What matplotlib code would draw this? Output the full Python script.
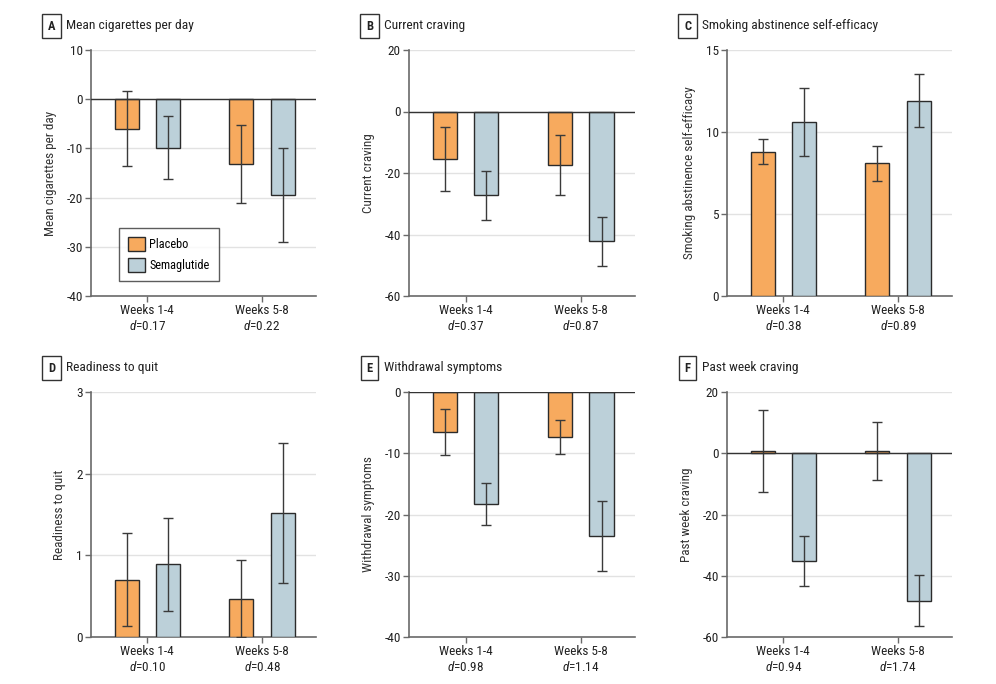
import matplotlib
matplotlib.use("Agg")
import matplotlib.pyplot as plt
from matplotlib import font_manager
import numpy as np

avail = {f.name for f in font_manager.fontManager.ttflist}
pref = [f for f in ['Roboto Condensed', 'Liberation Sans Narrow', 'Open Sans Condensed', 'Lato'] if f in avail]
FAM = pref[0] if pref else 'DejaVu Sans'
plt.rcParams['font.family'] = [FAM, 'DejaVu Sans']
plt.rcParams['mathtext.fontset'] = 'custom'
plt.rcParams['mathtext.it'] = FAM + ':italic'
plt.rcParams['mathtext.rm'] = FAM

groups = ["Weeks 1-4", "Weeks 5-8"]
series = ["Placebo", "Semaglutide"]

letters = ["A", "B", "C", "D", "E", "F"]
titles = ["Mean cigarettes per day", "Current craving", "Smoking abstinence self-efficacy",
          "Readiness to quit", "Withdrawal symptoms", "Past week craving"]
ylabels = titles

placebo_mean = [[-6.0, -13.2], [-15.4, -17.4], [8.8, 8.1], [0.70, 0.47], [-6.6, -7.3], [0.6, 0.7]]
placebo_err = [[7.6, 7.95], [10.5, 9.9], [0.78, 1.07], [0.57, 0.47], [3.76, 2.8], [13.4, 9.4]]
sema_mean = [[-9.9, -19.5], [-27.2, -42.2], [10.6, 11.9], [0.89, 1.52], [-18.3, -23.5], [-35.2, -48.1]]
sema_err = [[6.4, 9.5], [8.0, 8.0], [2.08, 1.61], [0.57, 0.86], [3.4, 5.65], [8.2, 8.2]]
d_values = [["0.17", "0.22"], ["0.37", "0.87"], ["0.38", "0.89"],
            ["0.10", "0.48"], ["0.98", "1.14"], ["0.94", "1.74"]]
yticks = [[10, 0, -10, -20, -30, -40], [20, 0, -20, -40, -60], [15, 10, 5, 0],
          [3, 2, 1, 0], [0, -10, -20, -30, -40], [20, 0, -20, -40, -60]]

ORANGE = "#F7AA5E"
BLUE = "#BCD0D9"
EDGE = "#2b2b2b"
ERRC = "#3a3a3a"
GRID = "#e2e2e2"
SPINE = "#6a6a6a"
TXT = "#222222"

W, H = 996, 684
fig = plt.figure(figsize=(W / 100, H / 100), dpi=100)

cols = [(91, 316), (409, 635), (727, 952)]
rows = [(50, 296), (392, 637)]

for i in range(6):
    r, c = divmod(i, 3)
    l, rr = cols[c]
    t, b = rows[r]
    ax = fig.add_axes([l / W, 1 - b / H, (rr - l) / W, (b - t) / H])
    x = np.arange(len(groups))
    off = 0.18
    bw = 0.21
    ax.bar(x - off, placebo_mean[i], bw, color=ORANGE, edgecolor=EDGE, linewidth=1.0, zorder=3, label=series[0])
    ax.bar(x + off, sema_mean[i], bw, color=BLUE, edgecolor=EDGE, linewidth=1.0, zorder=3, label=series[1])
    ax.errorbar(x - off, placebo_mean[i], yerr=placebo_err[i], fmt='none', ecolor=ERRC,
                elinewidth=1.0, capsize=3.8, capthick=1.0, zorder=4)
    ax.errorbar(x + off, sema_mean[i], yerr=sema_err[i], fmt='none', ecolor=ERRC,
                elinewidth=1.0, capsize=3.8, capthick=1.0, zorder=4)
    yt = yticks[i]
    ax.set_ylim(min(yt), max(yt))
    ax.set_yticks(yt)
    ax.set_yticklabels([str(v) if v >= 0 else "-" + str(-v) for v in yt])
    ax.set_xlim(-0.49, 1.47)
    ax.set_xticks(x)
    ax.set_xticklabels([f"{g}\n$d$=" + dv for g, dv in zip(groups, d_values[i])],
                       linespacing=1.15)
    ax.yaxis.grid(True, color=GRID, linewidth=1.0, zorder=0)
    ax.set_axisbelow(True)
    if min(yt) < 0:
        ax.axhline(0, color="#333333", linewidth=1.0, zorder=5)
    for s in ["top", "right"]:
        ax.spines[s].set_visible(False)
    for s in ["left", "bottom"]:
        ax.spines[s].set_color(SPINE)
        ax.spines[s].set_linewidth(1.2)
    ax.tick_params(axis='both', colors=SPINE, labelcolor=TXT, labelsize=9.5, length=4, width=1)
    ax.tick_params(axis='x', pad=2)
    ax.tick_params(axis='y', pad=2)
    ax.set_ylabel(ylabels[i], fontsize=9.5, color="#333333", labelpad=7)

    # panel header
    ty = 1 - (t - 24) / H
    fig.text((l - 39.5) / W, ty, letters[i], fontsize=9, fontweight='bold', color=TXT,
             ha='center', va='center',
             bbox=dict(boxstyle='square,pad=0.45', fc='white', ec='#333333', lw=1.0))
    fig.text((l - 25) / W, ty, titles[i], fontsize=9.7, color=TXT, ha='left', va='center')

    if i == 0:
        ax.legend(loc='lower left', bbox_to_anchor=(0.124, 0.061), borderaxespad=0,
                  frameon=True, fancybox=False,
                  edgecolor='#333333', fontsize=8.8, handlelength=1.35, handleheight=1.4,
                  borderpad=0.75, labelspacing=0.55, handletextpad=0.4)

fig.savefig("out.png", dpi=100)
